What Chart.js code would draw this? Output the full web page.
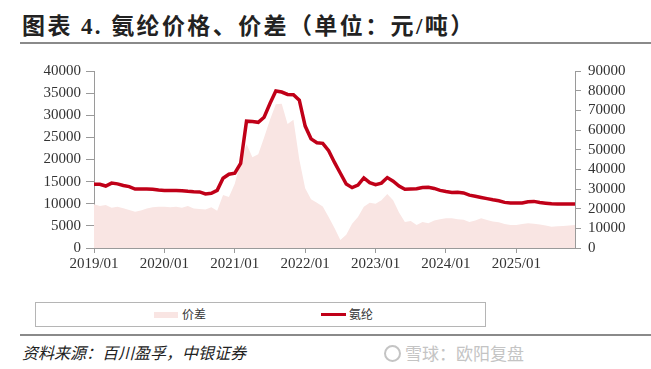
<!DOCTYPE html>
<html>
<head>
<meta charset="utf-8">
<script src="https://cdn.jsdelivr.net/npm/chart.js@4.4.1/dist/chart.umd.min.js"></script>
<style>
    body { margin: 0; width: 651px; height: 369px; background: #fff; position: relative; overflow: hidden; font-family: "Noto Sans CJK SC", sans-serif; }
    #title { position: absolute; left: 22px; top: 7px; font: bold 23px "Liberation Serif", "Noto Sans CJK SC"; letter-spacing: 2.4px; color: #222; white-space: nowrap; }
    .rule { position: absolute; left: 20px; right: 0; height: 2px; background: #8a8a8a; }
    #wrap { position: absolute; left: 0; top: 55px; width: 651px; height: 225px; }
    #legend { position: absolute; left: 35px; top: 302px; width: 449px; height: 23px; border: 1px solid #b5b5b5; font-size: 12px; color: #333; }
    .sw { position: absolute; }
    .lt { position: absolute; top: 3px; line-height: 16px; }
    #source { position: absolute; left: 22px; top: 340px; font-size: 16px; font-style: italic; color: #222; white-space: nowrap; }
    #mark { position: absolute; left: 384px; top: 340px; font-size: 17px; color: #c4c4c4; white-space: nowrap; }
    #mark i { display: inline-block; width: 13px; height: 13px; border: 2px solid #c4c4c4; border-radius: 50%; vertical-align: -2px; margin-right: 4px; }
</style>
</head>
<body>
<div id="title">图表 4. 氨纶价格、价差（单位：元/吨）</div>
<div class="rule" style="top:42px"></div>
<div id="wrap"><canvas id="spandexChart" width="651" height="225"></canvas></div>
<div id="legend">
    <div class="sw" style="left:118px;top:9px;width:24px;height:6px;background:#f9e5e3"></div>
    <div class="lt" style="left:146px">价差</div>
    <div class="sw" style="left:285px;top:10px;width:25px;height:3px;background:#c00018"></div>
    <div class="lt" style="left:313px">氨纶</div>
</div>
<div class="rule" style="top:334px"></div>
<div id="source">资料来源：百川盈孚，中银证券</div>
<div id="mark"><i></i>雪球：欧阳复盘</div>
<script>
// monthly points, 2019/01 .. 2025/11
const months = [];
for (let y = 2019; y <= 2025; y++) {
    for (let m = 1; m <= 12; m++) {
        if (y === 2025 && m > 11) break;
        months.push(y + '/' + String(m).padStart(2, '0'));
    }
}
const yearTicks = ['2019/01', '2020/01', '2021/01', '2022/01', '2023/01', '2024/01', '2025/01'];

// 氨纶 price, right axis
const spandexPrice = [
    32400, 32400, 31500, 33000, 32600, 31800, 31200, 30000, 30000, 30000,
    29900, 29500, 29300, 29300, 29200, 29100, 28800, 28600, 28500, 27500,
    27800, 29300, 35500, 37500, 38000, 43000, 64500, 64300, 63900, 66500,
    73500, 79800, 79300, 78100, 77900, 75200, 62000, 55500, 53500, 53200,
    49500, 43500, 38000, 32500, 30700, 32000, 35600, 33200, 32200, 33000,
    35800, 34000, 31500, 29900, 30000, 30100, 30800, 30900, 30300, 29300,
    28700, 28200, 28400, 28000, 26900, 26300, 25700, 25100, 24500, 24000,
    23200, 22900, 22900, 22900, 23500, 23700, 23100, 22800, 22500, 22400,
    22400, 22400, 22400
];

// 价差, left axis
const spread = [
    9900, 9500, 9700, 9100, 9300, 9000, 8600, 8200, 8500, 8900,
    9200, 9300, 9300, 9200, 9300, 9100, 9500, 8900, 8800, 8700,
    9200, 8400, 12000, 11500, 14500, 19500, 23500, 20500, 21200, 25000,
    29000, 32500, 32600, 28000, 29000, 20000, 13500, 11000, 10200, 9400,
    7000, 4500, 1800, 3000, 5500, 7000, 9300, 10200, 10000, 10800,
    12200, 10800, 8000, 5900, 6100, 5200, 5900, 5600, 6200, 6500,
    6700, 6700, 6500, 6400, 5900, 6200, 6700, 6300, 6000, 5800,
    5400, 5200, 5200, 5400, 5600, 5500, 5300, 5100, 4800, 4900,
    5000, 5100, 5200
];

const axisGray = '#9a9a9a';
const tickFont = { family: 'Liberation Serif', size: 15 };

const ctx = document.getElementById('spandexChart').getContext('2d');
new Chart(ctx, {
    type: 'line',
    data: {
        labels: months,
        datasets: [{
            label: '氨纶',
            data: spandexPrice,
            yAxisID: 'yR',
            borderColor: '#c00018',
            borderWidth: 3.5,
            pointRadius: 0,
            tension: 0,
            fill: false,
            order: 0
        }, {
            label: '价差',
            data: spread,
            yAxisID: 'yL',
            backgroundColor: '#f9e5e3',
            borderWidth: 0,
            pointRadius: 0,
            tension: 0,
            fill: 'origin',
            order: 1
        }]
    },
    options: {
        responsive: false,
        animation: false,
        devicePixelRatio: 1,
        layout: { padding: { top: 15, left: 0, right: 0, bottom: 0 } },
        plugins: { legend: { display: false }, tooltip: { enabled: false } },
        scales: {
            x: {
                offset: false,
                border: { color: axisGray },
                grid: { drawOnChartArea: false, tickLength: 5, color: axisGray },
                ticks: {
                    autoSkip: false, maxRotation: 0, padding: 2, color: '#333', font: tickFont,
                    callback: (v, i) => yearTicks.includes(months[i]) ? months[i] : null
                },
                afterFit: (s) => { s.height = 32; }
            },
            yL: {
                position: 'left',
                min: 0, max: 40000,
                border: { color: axisGray },
                grid: { drawOnChartArea: false, tickLength: 8, color: axisGray },
                ticks: { stepSize: 5000, autoSkip: false, padding: 5, color: '#333', font: tickFont, callback: (v) => String(v) },
                afterFit: (s) => { s.width = 94; }
            },
            yR: {
                position: 'right',
                min: 0, max: 90000,
                border: { color: axisGray },
                grid: { drawOnChartArea: false, tickLength: 6, color: axisGray },
                ticks: { stepSize: 10000, autoSkip: false, padding: 7, color: '#333', font: tickFont, callback: (v) => String(v) },
                afterFit: (s) => { s.width = 76; }
            }
        }
    }
});
</script>
</body>
</html>
